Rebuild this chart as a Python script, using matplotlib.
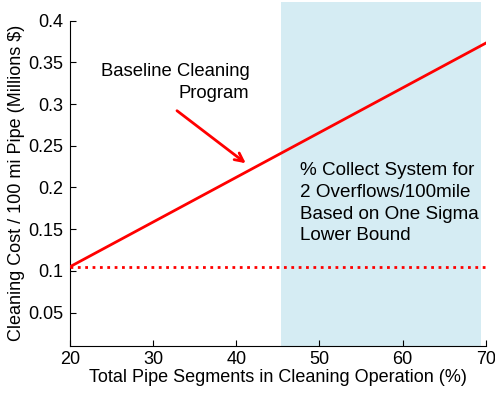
import matplotlib
matplotlib.use("Agg")
import matplotlib.pyplot as plt
from matplotlib.patches import Rectangle

plt.rcParams['font.family'] = ['Liberation Sans', 'DejaVu Sans']

# baseline cleaning program cost vs % of segments cleaned
pct = [20, 70]
cost = [0.105, 0.373]
lower_bound = 0.105

# shaded region (% collect system for 2 overflows/100 mile)
shade_x = [45.4, 69.4]

fig = plt.figure(figsize=(4.95, 3.93), dpi=100)
ax = fig.add_axes([0.1414, 0.1196, 0.840, 0.828])

ax.add_patch(Rectangle((shade_x[0], 0.01), shade_x[1] - shade_x[0], 0.4125,
                       facecolor='#d5ecf3', edgecolor='none', clip_on=False, zorder=0))

ax.plot(pct, cost, color='#ff0000', linewidth=2, zorder=3)
ax.plot(pct, [lower_bound, lower_bound], color='#ff0000', linestyle=':', linewidth=2, zorder=3)

ax.annotate('', xy=(41.4, 0.227), xytext=(32.6, 0.294),
            arrowprops=dict(arrowstyle='->', color='#ff0000', lw=2, mutation_scale=15))
ax.text(41.6, 0.349, 'Baseline Cleaning\nProgram', ha='right', va='top',
        multialignment='right', fontsize=13.3, linespacing=1.35)
ax.text(47.6, 0.230, '% Collect System for\n2 Overflows/100mile\nBased on One Sigma\nLower Bound',
        ha='left', va='top', fontsize=13.6, linespacing=1.35)

ax.set_xlim(20, 70)
ax.set_ylim(0.01, 0.4)
ax.set_xticks([20, 30, 40, 50, 60, 70])
ax.set_yticks([0.05, 0.1, 0.15, 0.2, 0.25, 0.3, 0.35, 0.4])
ax.set_yticklabels(['0.05', '0.1', '0.15', '0.2', '0.25', '0.3', '0.35', '0.4'])
ax.tick_params(direction='in', labelsize=13, length=4)
ax.tick_params(axis='y', pad=5)
ax.spines['top'].set_visible(False)
ax.spines['right'].set_visible(False)
ax.patch.set_visible(False)

ax.set_xlabel('Total Pipe Segments in Cleaning Operation (%)', fontsize=13, labelpad=1)
ax.set_ylabel('Cleaning Cost / 100 mi Pipe (Millions $)', fontsize=13, labelpad=2)

fig.savefig('out.png', dpi=100)
